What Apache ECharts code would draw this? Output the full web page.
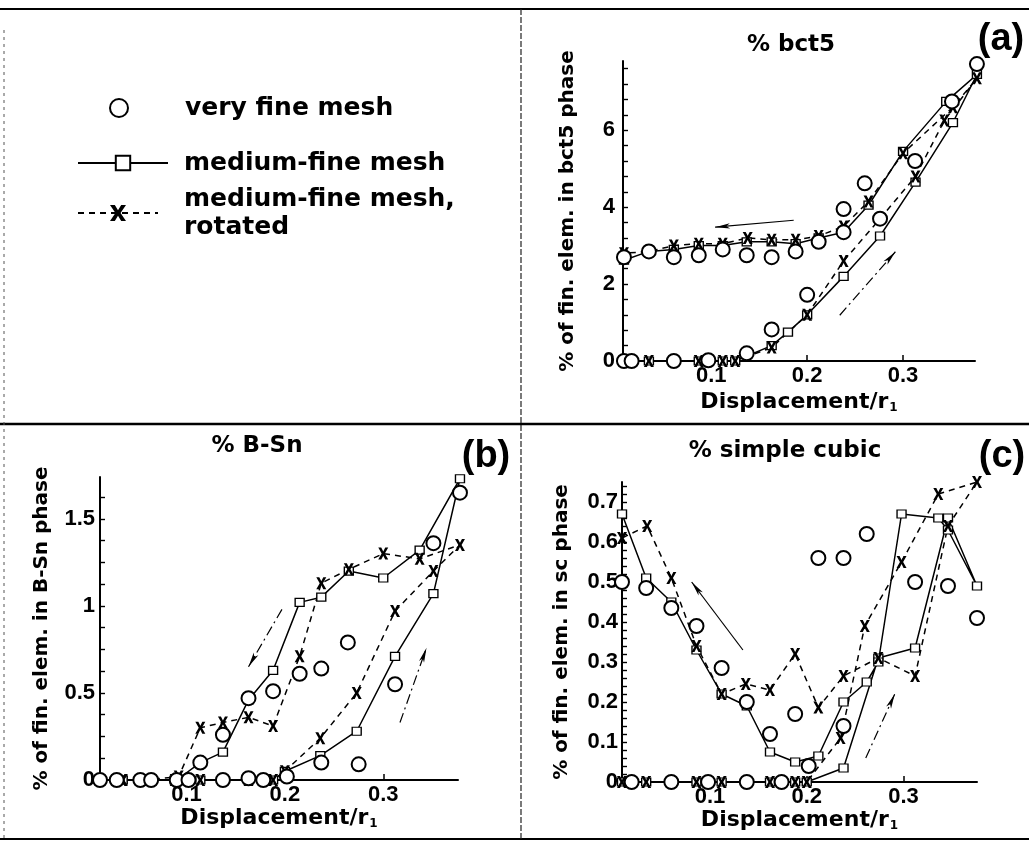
<!DOCTYPE html>
<html>
<head>
<meta charset="utf-8">
<script src="https://cdn.jsdelivr.net/npm/echarts@6/dist/echarts.min.js"></script>
<style>
html,body{margin:0;padding:0;background:#fff;}
#chart{width:1029px;height:842px;}
</style>
</head>
<body>
<div id="chart"></div>
<script>
// ---------- tick labels ----------
const xTicks = [0.1, 0.2, 0.3];
const aYTicks = [0, 2, 4, 6];
const aYMinor = [0.4,0.8,1.2,1.6,2.4,2.8,3.2,3.6,4.4,4.8,5.2,5.6,6.4,6.8,7.2,7.6];
const bYTicks = [0, 0.5, 1, 1.5];
const bYMinor = [0.125,0.25,0.375,0.625,0.75,0.875,1.125,1.25,1.375,1.625];
const cYTicks = [0, 0.1, 0.2, 0.3, 0.4, 0.5, 0.6, 0.7];
const cYMinor = [0.02,0.04,0.06,0.08,0.12,0.14,0.16,0.18,0.22,0.24,0.26,0.28,0.32,0.34,0.36,0.38,
                 0.42,0.44,0.46,0.48,0.52,0.54,0.56,0.58,0.62,0.64,0.66,0.68,0.72,0.74];

// ---------- series names ----------
const NAME_VF = 'very fine mesh';
const NAME_MF = 'medium-fine mesh';
const NAME_ROT = 'medium-fine mesh, rotated';

// ---------- panel (a) % bct5 ----------
const aVeryFine = [[0.009,0],[0.017,0],[0.061,0],[0.097,0.02],[0.137,0.2],[0.163,0.82],[0.2,1.72],
  [0.276,3.7],[0.3125,5.2],[0.377,7.72],[0.351,6.75],[0.26,4.62],[0.238,3.95],[0.238,3.35],
  [0.212,3.1],[0.188,2.85],[0.163,2.7],[0.137,2.75],[0.112,2.9],[0.087,2.75],[0.061,2.7],[0.035,2.85],[0.009,2.7]];
const aMedium = [[0.009,0],[0.035,0],[0.061,0],[0.087,0],[0.112,0],[0.125,0],[0.163,0.4],[0.18,0.75],
  [0.2,1.2],[0.238,2.2],[0.276,3.25],[0.313,4.65],[0.352,6.2],[0.377,7.45],[0.345,6.75],[0.3,5.45],
  [0.264,4.05],[0.238,3.35],[0.212,3.2],[0.188,3.05],[0.163,3.1],[0.137,3.1],[0.112,3.0],[0.087,3.0],
  [0.061,2.9],[0.035,2.85],[0.009,2.62]];
const aRotated = [[0.009,0],[0.035,0],[0.061,0],[0.087,0],[0.112,0],[0.125,0],[0.163,0.35],[0.2,1.2],
  [0.238,2.6],[0.276,3.7],[0.313,4.8],[0.343,6.25],[0.377,7.35],[0.352,6.6],[0.3,5.4],[0.264,4.15],
  [0.238,3.5],[0.212,3.25],[0.188,3.15],[0.163,3.15],[0.138,3.2],[0.112,3.05],[0.087,3.05],[0.061,3.0],
  [0.035,2.85],[0.009,2.8]];
const aArrowSolid = [[0.186,3.66],[0.104,3.48]];
const aArrowDash = [[0.234,1.19],[0.292,2.84]];

// ---------- panel (b) % B-Sn ----------
const bVeryFine = [[0.012,0],[0.029,0],[0.053,0],[0.064,0],[0.09,0],[0.102,0],[0.137,0],[0.163,0.01],
  [0.178,0],[0.202,0.02],[0.237,0.1],[0.275,0.09],[0.312,0.55],[0.351,1.36],[0.378,1.65],[0.264,0.79],
  [0.237,0.64],[0.215,0.61],[0.188,0.51],[0.163,0.47],[0.137,0.26],[0.114,0.1]];
const bMedium = [[0.012,0],[0.035,0],[0.06,0],[0.088,0],[0.114,0],[0.137,0],[0.163,0],[0.188,0],
  [0.2,0.05],[0.236,0.14],[0.273,0.28],[0.312,0.71],[0.351,1.07],[0.378,1.73],[0.337,1.32],[0.3,1.16],
  [0.265,1.2],[0.237,1.05],[0.215,1.02],[0.188,0.63],[0.163,0.46],[0.137,0.16],[0.114,0.1],[0.09,0],
  [0.06,0],[0.035,0],[0.012,0]];
const bRotated = [[0.012,0],[0.035,0],[0.06,0],[0.088,0],[0.114,0],[0.137,0],[0.163,0],[0.188,0],
  [0.2,0.05],[0.236,0.24],[0.273,0.5],[0.312,0.97],[0.351,1.2],[0.378,1.35],[0.337,1.27],[0.3,1.3],
  [0.265,1.21],[0.237,1.13],[0.215,0.71],[0.188,0.31],[0.163,0.36],[0.137,0.33],[0.114,0.3],[0.092,0.02],
  [0.06,0],[0.035,0],[0.012,0]];
const bArrowDown = [[0.197,0.98],[0.163,0.65]];
const bArrowUp = [[0.317,0.33],[0.344,0.76]];

// ---------- panel (c) % simple cubic ----------
const cVeryFine = [[0.019,0],[0.06,0],[0.098,0],[0.138,0],[0.174,0],[0.202,0.04],[0.238,0.14],
  [0.262,0.62],[0.312,0.5],[0.346,0.49],[0.376,0.41],[0.238,0.56],[0.212,0.56],[0.188,0.17],
  [0.162,0.12],[0.138,0.2],[0.112,0.285],[0.086,0.39],[0.06,0.435],[0.034,0.485],[0.009,0.5]];
const cMedium = [[0.009,0],[0.034,0],[0.06,0],[0.086,0],[0.112,0],[0.138,0],[0.162,0],[0.188,0],
  [0.2,0],[0.238,0.035],[0.274,0.31],[0.312,0.335],[0.346,0.66],[0.376,0.49],[0.346,0.63],[0.336,0.66],
  [0.298,0.67],[0.274,0.3],[0.262,0.25],[0.238,0.2],[0.212,0.065],[0.188,0.05],[0.162,0.075],
  [0.138,0.19],[0.112,0.22],[0.086,0.33],[0.06,0.45],[0.034,0.51],[0.009,0.67]];
const cRotated = [[0.009,0],[0.034,0],[0.06,0],[0.086,0],[0.112,0],[0.138,0],[0.162,0],[0.188,0],
  [0.2,0],[0.235,0.11],[0.26,0.39],[0.298,0.55],[0.336,0.72],[0.376,0.75],[0.346,0.64],[0.312,0.265],
  [0.274,0.31],[0.238,0.265],[0.212,0.186],[0.188,0.32],[0.162,0.23],[0.137,0.245],[0.112,0.22],
  [0.086,0.34],[0.06,0.51],[0.035,0.64],[0.009,0.61]];
const cArrowSolid = [[0.134,0.33],[0.081,0.50]];
const cArrowDash = [[0.261,0.06],[0.291,0.22]];

// ---------- styling helpers ----------
const BOLD = 'DejaVu Sans';
const TICKF = 'Liberation Sans';
const XMARK = 'path://M0,0L3,0L5,3.6L7,0L10,0L6.6,5.5L10,11L7,11L5,7.4L3,11L0,11L3.4,5.5Z';
const DASHDOT = [10, 4, 2, 4];

function xAxisCfg(gi, min, max, gap) {
  return {
    type: 'value', gridIndex: gi, min: min, max: max,
    axisLine: {show: true, onZero: false, lineStyle: {color: '#000', width: 2}},
    axisTick: {show: true, inside: true, length: 6, customValues: xTicks, lineStyle: {color: '#000', width: 1.5}},
    axisLabel: {customValues: xTicks, color: '#000', fontSize: 22, fontWeight: 'bold', fontFamily: TICKF, margin: 4},
    splitLine: {show: false},
    name: '{t|Displacement/r}{s|1}', nameLocation: 'middle', nameGap: gap,
    nameTextStyle: {color: '#000', rich: {
      t: {fontFamily: BOLD, fontWeight: 'bold', fontSize: 22, color: '#000'},
      s: {fontFamily: BOLD, fontWeight: 'bold', fontSize: 12, color: '#000', padding: [12, 0, 0, 1]}
    }}
  };
}
function yAxisMain(gi, max, labels, minors, name, gap, margin) {
  const allTicks = labels.concat(minors).sort(function (p, q) { return p - q; });
  return {
    type: 'value', gridIndex: gi, min: 0, max: max,
    axisLine: {show: true, onZero: false, lineStyle: {color: '#000', width: 2}},
    axisTick: {show: true, inside: true, length: 5, customValues: allTicks, lineStyle: {color: '#000', width: 1.4}},
    axisLabel: {customValues: labels, color: '#000', fontSize: 22, fontWeight: 'bold', fontFamily: TICKF, margin: margin},
    splitLine: {show: false},
    name: name, nameLocation: 'middle', nameGap: gap,
    nameTextStyle: {color: '#000', fontFamily: BOLD, fontWeight: 'bold', fontSize: 20}
  };
}
function arrow(pts, dash) {
  return [
    {coord: pts[0], lineStyle: {type: dash ? DASHDOT : 'solid', color: '#000', width: 1.2}},
    {coord: pts[1]}
  ];
}
function panelSeries(i, vf, med, rot, arrows) {
  return [
    {name: NAME_MF, type: 'line', xAxisIndex: i, yAxisIndex: i, data: med, clip: false,
     symbol: 'rect', symbolSize: [9, 8],
     itemStyle: {color: '#fff', borderColor: '#000', borderWidth: 1.3, opacity: 1},
     lineStyle: {color: '#000', width: 1.5}, z: 3},
    {name: NAME_ROT, type: 'line', xAxisIndex: i, yAxisIndex: i, data: rot, clip: false,
     symbol: XMARK, symbolSize: [10, 12],
     itemStyle: {color: '#000', opacity: 1},
     lineStyle: {color: '#000', width: 1.5, type: [6, 5]}, z: 3},
    {name: NAME_VF, type: 'scatter', xAxisIndex: i, yAxisIndex: i, data: vf, clip: false,
     symbol: 'emptyCircle', symbolSize: 14,
     itemStyle: {color: '#000', borderColor: '#000', borderWidth: 1.5, opacity: 1}, z: 4,
     markLine: {silent: true, symbol: ['none', 'arrow'], symbolSize: [4, 15],
       label: {show: false}, animation: false,
       lineStyle: {color: '#000', width: 1.2},
       data: arrows}}
  ];
}

const legendText = {color: '#000', fontFamily: BOLD, fontWeight: 'bold', fontSize: 25, lineHeight: 28};

const option = {
  backgroundColor: '#fff',
  animation: false,
  grid: [
    {left: 623, top: 61, width: 352, height: 300},
    {left: 100, top: 477, width: 358, height: 303},
    {left: 622, top: 482, width: 355, height: 300}
  ],
  xAxis: [
    xAxisCfg(0, 0.008, 0.375, 29),
    xAxisCfg(1, 0.012, 0.376, 24),
    xAxisCfg(2, 0.009, 0.376, 24)
  ],
  yAxis: [
    yAxisMain(0, 7.8, aYTicks, aYMinor, '% of fin. elem. in bct5 phase', 45, 8),
    yAxisMain(1, 1.74, bYTicks, bYMinor, '% of fin. elem. in B-Sn phase', 48, 5),
    yAxisMain(2, 0.75, cYTicks, cYMinor, '% of fin. elem. in sc phase', 50, 4)
  ],
  legend: [
    {data: [NAME_VF], left: 109, top: 94, padding: 0, selectedMode: false,
     itemWidth: 20, itemHeight: 18,
     textStyle: Object.assign({}, legendText, {padding: [0, 0, 0, 51]})},
    {data: [NAME_MF], left: 77, top: 149, padding: 0, selectedMode: false,
     itemWidth: 90, itemHeight: 18,
     textStyle: Object.assign({}, legendText, {padding: [0, 0, 0, 11]})},
    {data: [NAME_ROT], left: 77, top: 171, padding: 0, selectedMode: false,
     itemWidth: 80, itemHeight: 20,
     formatter: function () { return 'medium-fine mesh,\nrotated'; },
     textStyle: Object.assign({}, legendText, {padding: [28, 0, 0, 21]})}
  ],
  series: [].concat(
    panelSeries(0, aVeryFine, aMedium, aRotated, [arrow(aArrowSolid, false), arrow(aArrowDash, true)]),
    panelSeries(1, bVeryFine, bMedium, bRotated, [arrow(bArrowDown, true), arrow(bArrowUp, true)]),
    panelSeries(2, cVeryFine, cMedium, cRotated, [arrow(cArrowSolid, false), arrow(cArrowDash, true)])
  ),
  graphic: [
    {type: 'line', silent: true, shape: {x1: 0, y1: 9, x2: 1029, y2: 9}, style: {stroke: '#000', lineWidth: 2}},
    {type: 'line', silent: true, shape: {x1: 0, y1: 424, x2: 1029, y2: 424}, style: {stroke: '#000', lineWidth: 2.5}},
    {type: 'line', silent: true, shape: {x1: 0, y1: 839, x2: 1029, y2: 839}, style: {stroke: '#000', lineWidth: 2}},
    {type: 'line', silent: true, shape: {x1: 521, y1: 9, x2: 521, y2: 839}, style: {stroke: '#222', lineWidth: 1.2, lineDash: [6, 2]}},
    {type: 'line', silent: true, shape: {x1: 4, y1: 30, x2: 4, y2: 839}, style: {stroke: '#555', lineWidth: 1, lineDash: [3, 4]}},
    {type: 'text', silent: true, x: 791, y: 45,
     style: {text: '% bct5', fill: '#000', font: 'bold 23px "DejaVu Sans"', textAlign: 'center', textVerticalAlign: 'middle', align: 'center', verticalAlign: 'middle'}},
    {type: 'text', silent: true, x: 257, y: 446,
     style: {text: '% B-Sn', fill: '#000', font: 'bold 23px "DejaVu Sans"', textAlign: 'center', textVerticalAlign: 'middle', align: 'center', verticalAlign: 'middle'}},
    {type: 'text', silent: true, x: 785, y: 451,
     style: {text: '% simple cubic', fill: '#000', font: 'bold 23px "DejaVu Sans"', textAlign: 'center', textVerticalAlign: 'middle', align: 'center', verticalAlign: 'middle'}},
    {type: 'text', silent: true, x: 1001, y: 40,
     style: {text: '(a)', fill: '#000', font: 'bold 38px "Liberation Sans"', textAlign: 'center', textVerticalAlign: 'middle', align: 'center', verticalAlign: 'middle'}},
    {type: 'text', silent: true, x: 486, y: 457,
     style: {text: '(b)', fill: '#000', font: 'bold 38px "Liberation Sans"', textAlign: 'center', textVerticalAlign: 'middle', align: 'center', verticalAlign: 'middle'}},
    {type: 'text', silent: true, x: 1002, y: 457,
     style: {text: '(c)', fill: '#000', font: 'bold 38px "Liberation Sans"', textAlign: 'center', textVerticalAlign: 'middle', align: 'center', verticalAlign: 'middle'}}
  ]
};

const chart = echarts.init(document.getElementById('chart'), null, {renderer: 'canvas'});
chart.setOption(option);
</script>
</body>
</html>
